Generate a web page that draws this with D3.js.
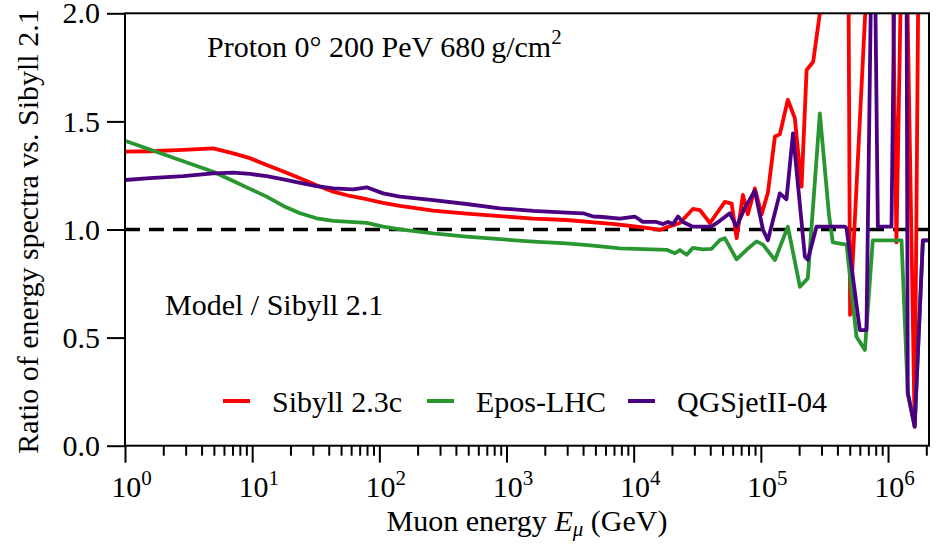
<!DOCTYPE html>
<html>
<head>
<meta charset="utf-8">
<script src="https://cdn.jsdelivr.net/npm/d3@7"></script>
<style>
  body { margin: 0; background: #fff; }
  text { font-family: "Liberation Serif", "Times New Roman", serif; fill: #000; }
</style>
</head>
<body>
<div id="chart"></div>
<script>
// --------------------
// DATA
// --------------------
const sibyllE = [1, 1.57, 2.87, 4.94, 7.1, 9.6, 13.0, 17.6, 23.8, 32.1,
  43.4, 58.7, 79.5, 107, 145, 265, 485, 887, 1622, 2966,
  5420, 7110, 9840, 13400, 16070, 18200, 23070, 29200, 33130, 39800,
  52100, 58900, 64500, 72300, 79000, 89700, 101300, 113600, 129000, 141000,
  163000, 185000, 209000, 229000, 258000, 291000, 328000, 368000, 417000, 485000,
  503000, 702000, 861000, 1065000, 1165000, 1277000, 1397000, 1620000, 1746000, 2060000];
const sibyllRatio = [1.36, 1.362, 1.368, 1.375, 1.352, 1.33, 1.298, 1.268, 1.237, 1.205,
  1.175, 1.155, 1.14, 1.123, 1.109, 1.087, 1.073, 1.062, 1.05, 1.044,
  1.031, 1.025, 1.015, 1.005, 0.998, 1.01, 1.03, 1.095, 1.09, 1.03,
  1.128, 1.12, 0.96, 1.16, 1.07, 1.19, 1.07, 1.17, 1.43, 1.44,
  1.60, 1.515, 1.198, 1.738, 1.776, 2.0, 2.6, 3.5, 3.0, 2.6,
  0.605, 2.3, 3.0, 2.6, 0.94, 2.3, 2.3, 0.088, 2.4, 2.5];

const eposE = [1, 1.57, 2.87, 4.94, 7.1, 9.6, 13.0, 17.6, 23.8, 32.1,
  43.4, 79.5, 107, 145, 265, 485, 887, 1622, 2966, 4790,
  7800, 18200, 21100, 23070, 26100, 29200, 35000, 40800, 47600, 52100,
  64400, 77200, 92500, 104000, 129000, 163000, 203000, 234000, 291000, 343000,
  368000, 472000, 565000, 658000, 759000, 1277000, 1430000, 1620000, 1880000, 2060000];
const eposRatio = [1.41, 1.37, 1.316, 1.267, 1.224, 1.188, 1.152, 1.109, 1.075, 1.052,
  1.04, 1.031, 1.013, 1.001, 0.982, 0.967, 0.955, 0.944, 0.936, 0.925,
  0.913, 0.906, 0.89, 0.905, 0.883, 0.915, 0.908, 0.91, 0.951, 0.96,
  0.862, 0.906, 0.945, 0.93, 0.859, 1.013, 0.735, 0.774, 1.537, 1.07,
  0.94, 0.93, 0.504, 0.443, 0.95, 0.95, 0.243, 0.09, 0.95, 0.95];

const qgsE = [1, 1.57, 2.87, 4.94, 7.1, 9.6, 13.0, 17.6, 23.8, 32.1,
  43.4, 62.4, 79.5, 107, 145, 265, 485, 887, 1622, 2966,
  4010, 4810, 5420, 7800, 10200, 11800, 15100, 17000, 18600, 20400,
  22300, 24400, 29200, 40800, 47600, 57000, 64400, 74800, 89700, 104000,
  113600, 141000, 159000, 179000, 222000, 234000, 274000, 458000, 472000, 600000,
  677000, 742000, 787000, 832000, 1065000, 1130000, 1397000, 1430000, 1620000, 1880000,
  2060000];
const qgsRatio = [1.229, 1.238, 1.247, 1.26, 1.263, 1.257, 1.247, 1.232, 1.216, 1.201,
  1.19, 1.186, 1.195, 1.167, 1.152, 1.136, 1.118, 1.098, 1.086, 1.078,
  1.075, 1.06, 1.059, 1.05, 1.06, 1.035, 1.035, 1.025, 1.035, 1.025,
  1.06, 1.035, 1.013, 1.013, 1.04, 1.075, 1.013, 1.1, 1.18, 0.998,
  0.95, 1.167, 1.14, 1.445, 0.874, 0.86, 1.013, 1.013, 1.005, 0.535,
  0.535, 2.3, 2.3, 1.013, 1.013, 2.3, 2.3, 0.243, 0.088, 0.95,
  0.95];

const modelNames = ["Sibyll 2.3c", "Epos-LHC", "QGSjetII-04"];
const modelColors = ["#ff0000", "#2a9632", "#4b0082"];
const xMajorTicks = [1, 10, 100, 1e3, 1e4, 1e5, 1e6];
const xMajorExps = ["0", "1", "2", "3", "4", "5", "6"];
const yTicks = [0, 0.5, 1.0, 1.5, 2.0];

// --------------------
// LAYOUT
// --------------------
const width = 939;
const height = 544;
const plotLeft = 125, plotRight = 929, plotTop = 13.3, plotBottom = 445.7;
const fontSize = 30;

const svg = d3.select("#chart")
  .append("svg")
  .attr("width", width)
  .attr("height", height);

const x = d3.scaleLog()
  .domain([1, 2.1e6])
  .range([plotLeft, plotRight]);

const y = d3.scaleLinear()
  .domain([0, 2])
  .range([plotBottom, plotTop]);

svg.append("clipPath")
  .attr("id", "plot-clip")
  .append("rect")
  .attr("x", plotLeft)
  .attr("y", plotTop)
  .attr("width", plotRight - plotLeft)
  .attr("height", plotBottom - plotTop);

// reference line at ratio 1
svg.append("line")
  .attr("x1", x(1)).attr("x2", x(2.1e6))
  .attr("y1", y(1)).attr("y2", y(1))
  .attr("stroke", "#000")
  .attr("stroke-width", 3.5)
  .attr("stroke-dasharray", "15,9");

// --------------------
// LINES
// --------------------
const series = [
  sibyllE.map((e, i) => [e, sibyllRatio[i]]),
  eposE.map((e, i) => [e, eposRatio[i]]),
  qgsE.map((e, i) => [e, qgsRatio[i]])
];

const line = d3.line()
  .x(d => x(d[0]))
  .y(d => y(d[1]));

series.forEach((s, i) => {
  svg.append("path")
    .datum(s)
    .attr("clip-path", "url(#plot-clip)")
    .attr("fill", "none")
    .attr("stroke", modelColors[i])
    .attr("stroke-width", 3.8)
    .attr("stroke-linejoin", "round")
    .attr("d", line);
});

// --------------------
// AXES
// --------------------
const minorTicks = [];
for (let p = 0; p <= 6; p++) {
  for (let m = 2; m <= 9; m++) {
    const v = m * Math.pow(10, p);
    if (v <= 2.1e6) minorTicks.push(v);
  }
}

svg.append("g")
  .attr("transform", `translate(0,${plotBottom})`)
  .call(d3.axisBottom(x).tickValues(minorTicks).tickSize(10).tickFormat(""));

const xMajor = svg.append("g")
  .attr("transform", `translate(0,${plotBottom})`)
  .call(d3.axisBottom(x).tickValues(xMajorTicks).tickSize(17).tickPadding(6).tickFormat(""));

xMajor.selectAll(".tick text").each(function(d, i) {
  const t = d3.select(this)
    .attr("font-size", fontSize)
    .attr("dy", "0.95em")
    .attr("dx", "0.2em");
  t.append("tspan").text("10");
  t.append("tspan")
    .attr("font-size", fontSize * 0.7)
    .attr("dy", "-0.6em")
    .text(xMajorExps[i]);
});

const yAxis = svg.append("g")
  .attr("transform", `translate(${plotLeft},0)`)
  .call(d3.axisLeft(y).tickValues(yTicks).tickSize(18).tickPadding(7)
    .tickFormat(d3.format(".1f")));

yAxis.selectAll(".tick text").attr("font-size", fontSize);

svg.selectAll(".domain").remove();
svg.selectAll(".tick line").attr("stroke", "#000").attr("stroke-width", 2);

// frame
svg.append("rect")
  .attr("x", plotLeft).attr("y", plotTop)
  .attr("width", plotRight - plotLeft).attr("height", plotBottom - plotTop)
  .attr("fill", "none")
  .attr("stroke", "#000")
  .attr("stroke-width", 2);

// axis labels
const xl = svg.append("text")
  .attr("x", (plotLeft + plotRight) / 2)
  .attr("y", 531)
  .attr("text-anchor", "middle")
  .attr("font-size", fontSize);
xl.append("tspan").text("Muon energy ");
xl.append("tspan").attr("font-style", "italic").text("E");
xl.append("tspan").attr("font-style", "italic").attr("font-size", fontSize * 0.7)
  .attr("dy", "0.25em").text("μ");
xl.append("tspan").attr("dy", "-0.18em").text(" (GeV)");

svg.append("text")
  .attr("transform", `translate(38,${(plotTop + plotBottom) / 2 + 2}) rotate(-90)`)
  .attr("text-anchor", "middle")
  .attr("font-size", fontSize)
  .text("Ratio of energy spectra vs. Sibyll 2.1");

// --------------------
// ANNOTATIONS
// --------------------
const title = svg.append("text")
  .attr("x", 207)
  .attr("y", 57)
  .attr("font-size", fontSize);
title.append("tspan").text("Proton 0° 200 PeV 680\u2009g/cm");
title.append("tspan").attr("font-size", fontSize * 0.7).attr("dy", "-0.6em").text("2");

svg.append("text")
  .attr("x", 165)
  .attr("y", 315)
  .attr("font-size", fontSize)
  .text("Model / Sibyll 2.1");

// --------------------
// LEGEND
// --------------------
const legendX = [223, 427, 628];
modelNames.forEach((name, i) => {
  svg.append("line")
    .attr("x1", legendX[i]).attr("x2", legendX[i] + 27)
    .attr("y1", 401).attr("y2", 401)
    .attr("stroke", modelColors[i])
    .attr("stroke-width", 4);
  svg.append("text")
    .attr("x", legendX[i] + 49)
    .attr("y", 412)
    .attr("font-size", fontSize)
    .text(name);
});
</script>
</body>
</html>
